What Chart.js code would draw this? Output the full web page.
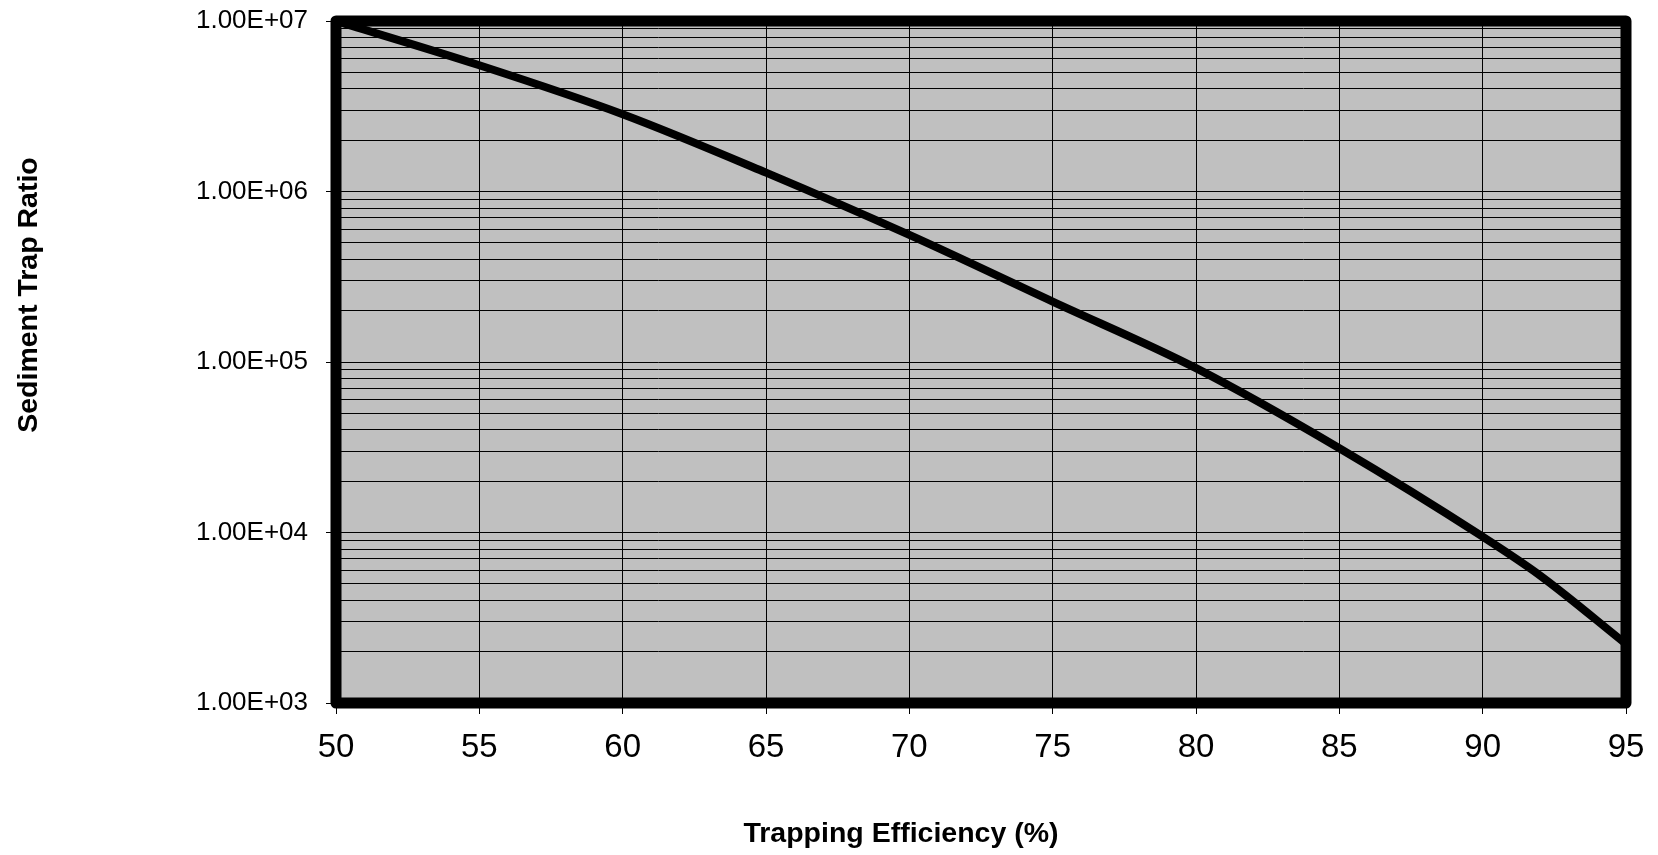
<!DOCTYPE html>
<html>
<head>
<meta charset="utf-8">
<title>Sediment Trap Ratio</title>
<script src="https://cdn.jsdelivr.net/npm/chart.js@4.4.0/dist/chart.umd.min.js"></script>
<style>
  html, body { margin: 0; padding: 0; background: #fff; }
  #wrap { width: 1658px; height: 855px; position: relative; }
</style>
</head>
<body>
<div id="wrap"><canvas id="chart"></canvas></div>
<script>
// trapping efficiency (%) vs sediment trap ratio
var trapEff   = [50, 55, 60, 65, 70, 75, 80, 85, 90, 92, 95];
var trapRatio = [1.0e7, 5.5e6, 2.84e6, 1.29e6, 5.56e5, 2.26e5, 9.2e4, 3.12e4, 9.45e3, 5.6e3, 2.22e3];

var xTicks = [50, 55, 60, 65, 70, 75, 80, 85, 90, 95];
var decades = [1e3, 1e4, 1e5, 1e6, 1e7];

var FONT = "Arial, 'Liberation Sans', sans-serif";

// 1..9 x each decade for the log grid
function logGrid() {
  var out = [];
  for (var d = 0; d < decades.length; d++) {
    out.push({ value: decades[d], major: true });
    if (d < decades.length - 1) {
      for (var m = 2; m <= 9; m++) out.push({ value: decades[d] * m, major: false });
    }
  }
  return out;
}

function sci(v) {
  var e = Math.round(Math.log10(v));
  var mant = (v / Math.pow(10, e)).toFixed(2);
  return mant + 'E' + (e < 0 ? '-' : '+') + String(Math.abs(e)).padStart(2, '0');
}

var plotBg = {
  id: 'plotBg',
  beforeDraw: function(chart) {
    var a = chart.chartArea, c = chart.ctx;
    c.save();
    c.fillStyle = '#c0c0c0';
    c.fillRect(a.left, a.top, a.right - a.left, a.bottom - a.top);
    c.restore();
  },
  afterDatasetsDraw: function(chart) {
    var a = chart.chartArea, c = chart.ctx;
    c.save();
    c.strokeStyle = '#000';
    c.lineWidth = 11;
    c.lineJoin = 'round';
    c.strokeRect(a.left, a.top, a.right - a.left, a.bottom - a.top);
    c.restore();
  },
  afterDraw: function(chart) {
    var c = chart.ctx;
    c.save();
    c.fillStyle = '#000';
    c.font = 'bold 28.5px ' + FONT;
    c.textAlign = 'center';
    c.textBaseline = 'alphabetic';
    c.fillText('Trapping Efficiency (%)', 901, 842);
    c.translate(37, 295);
    c.rotate(-Math.PI / 2);
    c.fillText('Sediment Trap Ratio', 0, 0);
    c.restore();
  }
};

new Chart(document.getElementById('chart'), {
  type: 'line',
  data: {
    datasets: [{
      label: 'Sediment Trap Ratio',
      data: trapEff.map(function(x, i) { return { x: x, y: trapRatio[i] }; }),
      borderColor: '#000',
      borderWidth: 8,
      pointRadius: 0,
      fill: false,
      cubicInterpolationMode: 'monotone'
    }]
  },
  options: {
    responsive: true,
    maintainAspectRatio: false,
    animation: false,
    layout: { padding: { top: 21, right: 32, left: 0, bottom: 0 } },
    plugins: {
      legend: { display: false },
      tooltip: { enabled: false }
    },
    scales: {
      x: {
        type: 'linear',
        min: 50,
        max: 95,
        afterBuildTicks: function(scale) {
          scale.ticks = xTicks.map(function(v) { return { value: v }; });
        },
        afterFit: function(scale) {
          scale.height = 152;
          scale.paddingLeft = 0;
          scale.paddingRight = 0;
        },
        border: { display: false },
        grid: { color: '#000', lineWidth: 1, tickLength: 11, tickColor: '#000' },
        ticks: {
          color: '#000',
          font: { family: FONT, size: 33 },
          padding: 14,
          autoSkip: false,
          maxRotation: 0
        }
      },
      y: {
        type: 'logarithmic',
        min: 1e3,
        max: 1e7,
        afterBuildTicks: function(scale) { scale.ticks = logGrid(); },
        afterFit: function(scale) {
          scale.width = 336;
          scale.paddingTop = 0;
          scale.paddingBottom = 0;
        },
        border: { display: false },
        grid: {
          color: '#000',
          lineWidth: 1,
          tickLength: 10,
          tickColor: function(ctx) { return ctx.tick && ctx.tick.major ? '#000' : 'rgba(0,0,0,0)'; }
        },
        ticks: {
          color: '#000',
          font: { family: FONT, size: 26 },
          padding: 18,
          autoSkip: false,
          callback: function(v) { return decades.indexOf(v) >= 0 ? sci(v) : ''; }
        }
      }
    }
  },
  plugins: [plotBg]
});
</script>
</body>
</html>
